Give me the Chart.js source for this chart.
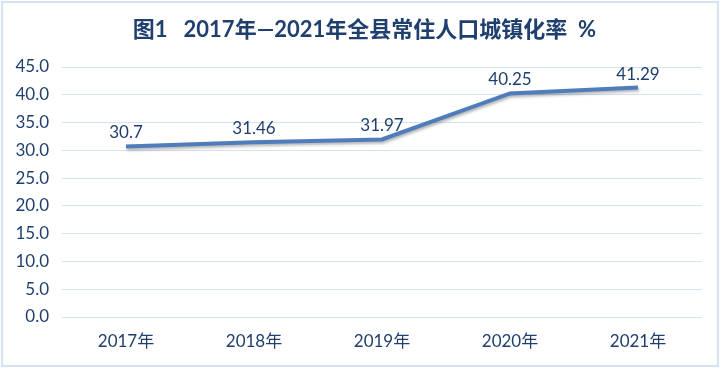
<!DOCTYPE html>
<html>
<head>
<meta charset="utf-8">
<script src="https://cdn.jsdelivr.net/npm/chart.js@4.4.1/dist/chart.umd.min.js"></script>
<style>
  body { margin: 0; background: #fff; }
  #wrap { position: relative; width: 723px; height: 369px; }
  #frame { position: absolute; left: 1px; top: 1px; width: 714px; height: 362px; border: 2px solid #D5E2F1; pointer-events: none; }
</style>
</head>
<body>
<div id="wrap">
  <canvas id="chart" width="723" height="369"></canvas>
  <div id="frame"></div>
</div>
<script>
// 年份和城镇化率
var years = ['2017年', '2018年', '2019年', '2020年', '2021年'];
var urbanRate = [30.7, 31.46, 31.97, 40.25, 41.29];
var titleText = '图1   2017年—2021年全县常住人口城镇化率  %';

var fontFamily = "Lato, 'Noto Sans CJK SC', sans-serif";

// 数值标签插件（画在点上方）
var pointLabels = {
    id: 'pointLabels',
    afterDatasetsDraw: function(chart) {
        var ctx = chart.ctx;
        var meta = chart.getDatasetMeta(0);
        ctx.save();
        ctx.font = '17px ' + fontFamily;
        ctx.fillStyle = '#1F3F6E';
        ctx.textAlign = 'center';
        ctx.textBaseline = 'bottom';
        meta.data.forEach(function(pt, i) {
            ctx.fillText(String(urbanRate[i]), pt.x, pt.y - 5);
        });
        ctx.restore();
    }
};

// 折线阴影
var lineShadow = {
    id: 'lineShadow',
    beforeDatasetsDraw: function(chart) {
        chart.ctx.save();
        chart.ctx.shadowColor = 'rgba(0,0,0,0.3)';
        chart.ctx.shadowBlur = 3;
        chart.ctx.shadowOffsetX = 1;
        chart.ctx.shadowOffsetY = 2;
    },
    afterDatasetsDraw: function(chart) {
        chart.ctx.restore();
    }
};

new Chart(document.getElementById('chart'), {
    type: 'line',
    data: {
        labels: years,
        datasets: [{
            data: urbanRate,
            borderColor: '#4F7DBB',
            borderWidth: 4,
            pointRadius: 0,
            fill: false,
            tension: 0
        }]
    },
    options: {
        responsive: false,
        animation: false,
        layout: { padding: { left: 0, right: 21, top: 0, bottom: 0 } },
        plugins: {
            legend: { display: false },
            tooltip: { enabled: false },
            title: {
                display: true,
                text: '\u00a0\u00a0\u00a0\u00a0\u00a0' + titleText,
                color: '#1F3F6E',
                font: { family: fontFamily, size: 22, weight: 'bold' },
                padding: { top: 17, bottom: 23.6 }
            }
        },
        scales: {
            x: {
                offset: true,
                grid: { display: false, drawTicks: false },
                border: { display: false },
                ticks: {
                    color: '#1F3F6E',
                    font: { family: fontFamily, size: 17 },
                    padding: 14
                },
                afterFit: function(scale) { scale.height = 52; }
            },
            y: {
                min: 0,
                max: 45,
                grid: { color: '#D6E1F0', lineWidth: 1, drawTicks: false },
                border: { display: false },
                ticks: {
                    stepSize: 5,
                    color: '#1F3F6E',
                    font: { family: fontFamily, size: 17 },
                    padding: 13,
                    callback: function(v) { return v.toFixed(1); }
                },
                afterFit: function(scale) { scale.width = 62; }
            }
        }
    },
    plugins: [lineShadow, pointLabels]
});
</script>
</body>
</html>
